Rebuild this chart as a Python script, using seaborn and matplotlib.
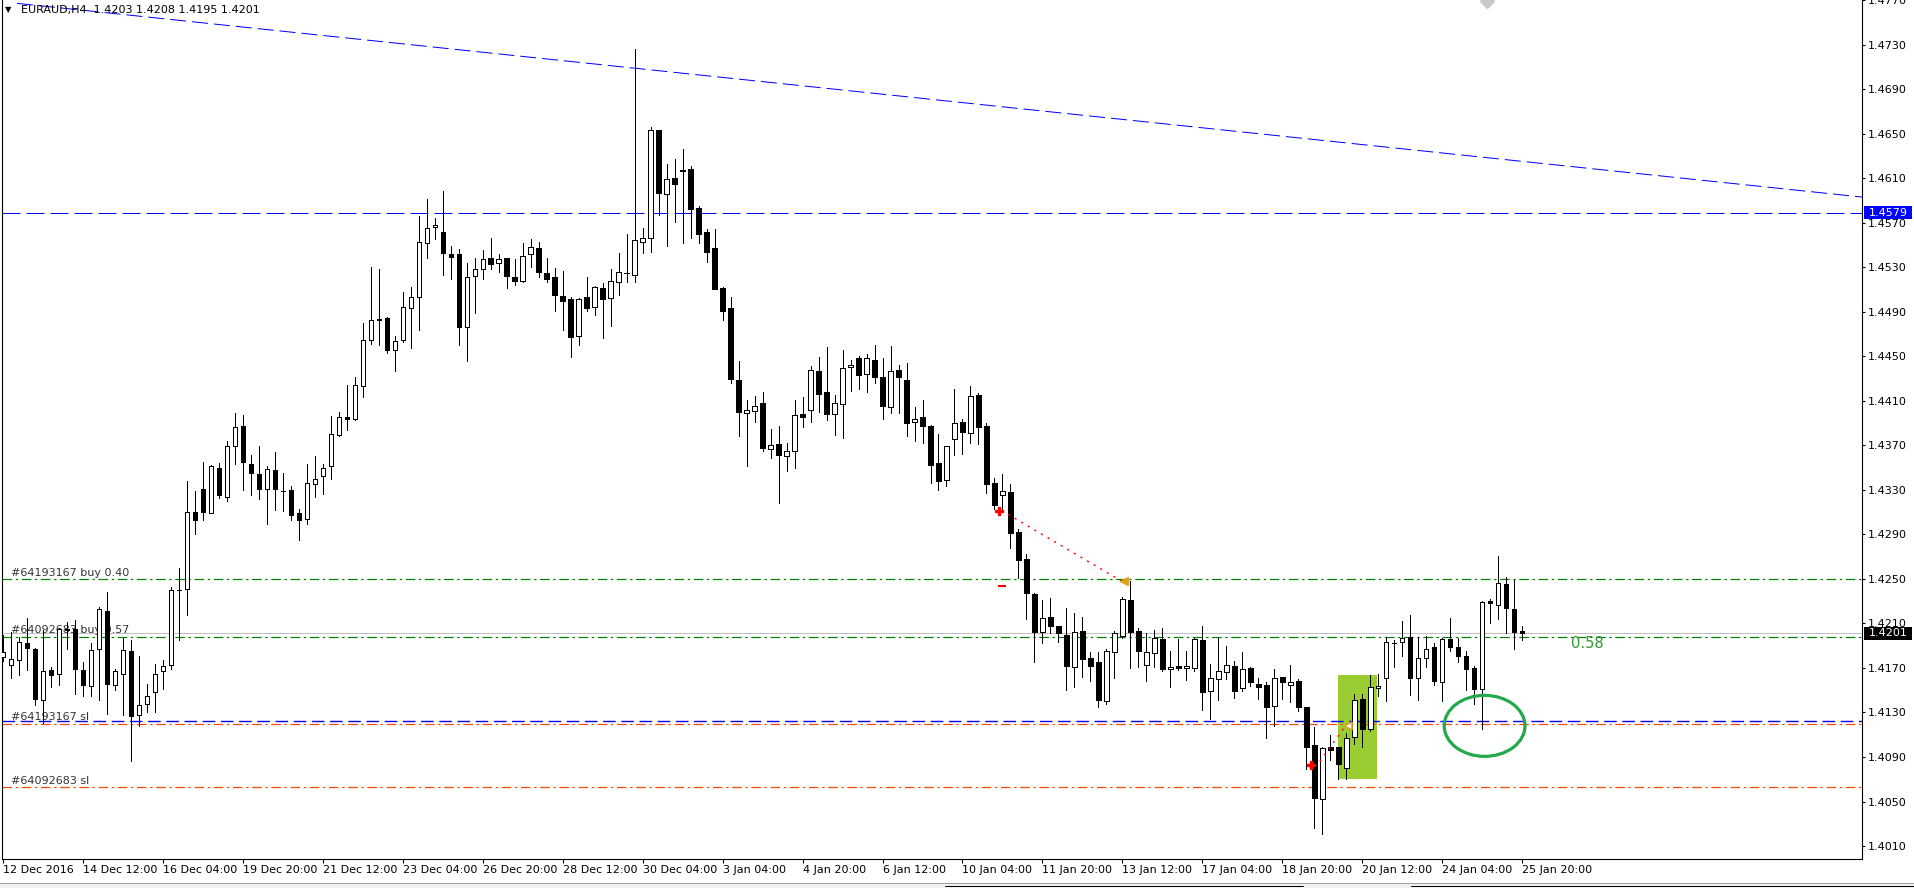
"""EURAUD H4 candlestick chart in MetaTrader style."""

import matplotlib

matplotlib.use("Agg")
import matplotlib.pyplot as plt  # noqa: E402
import matplotlib.transforms as mtransforms  # noqa: E402
import numpy as np  # noqa: E402
import seaborn as sns  # noqa: E402
from matplotlib.lines import Line2D  # noqa: E402
from matplotlib.patches import Ellipse, Rectangle  # noqa: E402

SYMBOL = "EURAUD,H4"

OPEN = [
    1.4180, 1.4173, 1.4177, 1.4192, 1.4187, 1.4141, 1.4168, 1.4165, 1.4205, 1.4205,
    1.4168, 1.4154, 1.4187, 1.4221, 1.4155, 1.4165, 1.4185, 1.4128, 1.4138, 1.4148,
    1.4167, 1.4173, 1.4240, 1.4241, 1.4310, 1.4331, 1.4309, 1.4350, 1.4324, 1.4369,
    1.4387, 1.4353, 1.4344, 1.4331, 1.4348, 1.4329, 1.4330, 1.4309, 1.4304, 1.4335,
    1.4342, 1.4351, 1.4379, 1.4395, 1.4394, 1.4423, 1.4465, 1.4483, 1.4484, 1.4456,
    1.4465, 1.4493, 1.4503, 1.4552, 1.4566, 1.4562, 1.4542, 1.4542, 1.4476, 1.4522,
    1.4528, 1.4538, 1.4534, 1.4538, 1.4521, 1.4518, 1.4542, 1.4547, 1.4525, 1.4521,
    1.4504, 1.4501, 1.4468, 1.4503, 1.4494, 1.4511, 1.4502, 1.4517, 1.4525, 1.4523,
    1.4553, 1.4556, 1.4653, 1.4596, 1.4610, 1.4617, 1.4618, 1.4583, 1.4562, 1.4547,
    1.4511, 1.4493, 1.4429, 1.4399, 1.4401, 1.4408, 1.4367, 1.4371, 1.4360, 1.4365,
    1.4398, 1.4402, 1.4437, 1.4418, 1.4398, 1.4407, 1.4440, 1.4448, 1.4434, 1.4447,
    1.4431, 1.4404, 1.4438, 1.4429, 1.4391, 1.4395, 1.4387, 1.4354, 1.4339, 1.4376,
    1.4391, 1.4381, 1.4415, 1.4387, 1.4336, 1.4325, 1.4328, 1.4292, 1.4268, 1.4236,
    1.4202, 1.4216, 1.4208, 1.4200, 1.4171, 1.4203, 1.4179, 1.4175, 1.4140, 1.4184,
    1.4199, 1.4231, 1.4203, 1.4173, 1.4183, 1.4196, 1.4169, 1.4172, 1.4170, 1.4170,
    1.4195, 1.4149, 1.4160, 1.4166, 1.4172, 1.4152, 1.4170, 1.4156, 1.4155, 1.4136,
    1.4162, 1.4155, 1.4158, 1.4135, 1.4101, 1.4052, 1.4099, 1.4099, 1.4080, 1.4108,
    1.4142, 1.4115, 1.4152, 1.4161, 1.4192, 1.4193, 1.4198, 1.4161, 1.4179, 1.4189,
    1.4157, 1.4196, 1.4189, 1.4181, 1.4170, 1.4151, 1.4230, 1.4227, 1.4245, 1.4223,
    1.4203,
]
HIGH = [
    1.4200, 1.4202, 1.4198, 1.4215, 1.4188, 1.4204, 1.4171, 1.4206, 1.4211, 1.4213,
    1.4175, 1.4192, 1.4225, 1.4238, 1.4169, 1.4197, 1.4195, 1.4181, 1.4156, 1.4174,
    1.4177, 1.4243, 1.4260, 1.4338, 1.4329, 1.4355, 1.4352, 1.4354, 1.4374, 1.4399,
    1.4397, 1.4361, 1.4369, 1.4351, 1.4364, 1.4345, 1.4333, 1.4313, 1.4353, 1.4360,
    1.4353, 1.4396, 1.4400, 1.4424, 1.4431, 1.4480, 1.4530, 1.4528, 1.4485, 1.4468,
    1.4508, 1.4512, 1.4576, 1.4591, 1.4574, 1.4598, 1.4549, 1.4546, 1.4534, 1.4538,
    1.4545, 1.4556, 1.4542, 1.4538, 1.4537, 1.4552, 1.4555, 1.4553, 1.4538, 1.4529,
    1.4527, 1.4503, 1.4502, 1.4521, 1.4513, 1.4516, 1.4528, 1.4543, 1.4560, 1.4726,
    1.4565, 1.4656, 1.4653, 1.4623, 1.4627, 1.4636, 1.4621, 1.4585, 1.4564, 1.4564,
    1.4512, 1.4503, 1.4446, 1.4411, 1.4414, 1.4418, 1.4385, 1.4387, 1.4372, 1.4411,
    1.4413, 1.4441, 1.4449, 1.4458, 1.4415, 1.4456, 1.4447, 1.4450, 1.4452, 1.4460,
    1.4448, 1.4459, 1.4442, 1.4444, 1.4404, 1.4411, 1.4388, 1.4380, 1.4369, 1.4421,
    1.4394, 1.4423, 1.4417, 1.4390, 1.4341, 1.4344, 1.4335, 1.4295, 1.4272, 1.4237,
    1.4231, 1.4233, 1.4208, 1.4224, 1.4219, 1.4216, 1.4184, 1.4184, 1.4187, 1.4203,
    1.4234, 1.4248, 1.4206, 1.4201, 1.4204, 1.4206, 1.4185, 1.4196, 1.4185, 1.4197,
    1.4208, 1.4174, 1.4197, 1.4190, 1.4176, 1.4184, 1.4171, 1.4161, 1.4157, 1.4169,
    1.4162, 1.4173, 1.4160, 1.4135, 1.4117, 1.4099, 1.4110, 1.4099, 1.4112, 1.4147,
    1.4147, 1.4164, 1.4165, 1.4198, 1.4195, 1.4212, 1.4218, 1.4198, 1.4199, 1.4192,
    1.4197, 1.4215, 1.4197, 1.4185, 1.4172, 1.4230, 1.4232, 1.4271, 1.4252, 1.4249,
    1.4208,
]
LOW = [
    1.4176, 1.4161, 1.4164, 1.4168, 1.4137, 1.4121, 1.4153, 1.4155, 1.4187, 1.4147,
    1.4145, 1.4145, 1.4141, 1.4129, 1.4150, 1.4128, 1.4086, 1.4118, 1.4130, 1.4130,
    1.4151, 1.4169, 1.4195, 1.4218, 1.4290, 1.4303, 1.4309, 1.4323, 1.4320, 1.4353,
    1.4330, 1.4325, 1.4322, 1.4299, 1.4312, 1.4311, 1.4303, 1.4285, 1.4299, 1.4324,
    1.4326, 1.4340, 1.4378, 1.4384, 1.4393, 1.4413, 1.4461, 1.4460, 1.4453, 1.4437,
    1.4463, 1.4457, 1.4474, 1.4538, 1.4555, 1.4523, 1.4519, 1.4460, 1.4446, 1.4489,
    1.4519, 1.4528, 1.4526, 1.4511, 1.4514, 1.4517, 1.4530, 1.4521, 1.4517, 1.4491,
    1.4474, 1.4449, 1.4460, 1.4491, 1.4487, 1.4466, 1.4477, 1.4505, 1.4517, 1.4517,
    1.4543, 1.4544, 1.4577, 1.4549, 1.4571, 1.4552, 1.4556, 1.4552, 1.4535, 1.4510,
    1.4483, 1.4426, 1.4378, 1.4351, 1.4391, 1.4365, 1.4359, 1.4318, 1.4347, 1.4350,
    1.4386, 1.4391, 1.4400, 1.4393, 1.4379, 1.4377, 1.4419, 1.4421, 1.4418, 1.4426,
    1.4394, 1.4399, 1.4399, 1.4378, 1.4374, 1.4372, 1.4336, 1.4330, 1.4333, 1.4361,
    1.4362, 1.4372, 1.4371, 1.4327, 1.4313, 1.4310, 1.4278, 1.4251, 1.4214, 1.4175,
    1.4192, 1.4201, 1.4193, 1.4150, 1.4153, 1.4162, 1.4158, 1.4135, 1.4138, 1.4161,
    1.4197, 1.4170, 1.4171, 1.4158, 1.4171, 1.4167, 1.4153, 1.4168, 1.4159, 1.4167,
    1.4132, 1.4124, 1.4141, 1.4160, 1.4143, 1.4149, 1.4154, 1.4142, 1.4107, 1.4118,
    1.4142, 1.4139, 1.4131, 1.4079, 1.4026, 1.4021, 1.4087, 1.4070, 1.4070, 1.4102,
    1.4099, 1.4113, 1.4145, 1.4140, 1.4171, 1.4181, 1.4146, 1.4141, 1.4171, 1.4155,
    1.4140, 1.4185, 1.4175, 1.4150, 1.4138, 1.4115, 1.4210, 1.4214, 1.4201, 1.4187,
    1.4195,
]
CLOSE = [
    1.4184, 1.4178, 1.4193, 1.4188, 1.4142, 1.4167, 1.4164, 1.4205, 1.4204, 1.4169,
    1.4155, 1.4186, 1.4223, 1.4156, 1.4167, 1.4186, 1.4127, 1.4137, 1.4145, 1.4165,
    1.4172, 1.4240, 1.4240, 1.4310, 1.4303, 1.4310, 1.4351, 1.4325, 1.4369, 1.4386,
    1.4355, 1.4345, 1.4331, 1.4349, 1.4331, 1.4329, 1.4307, 1.4303, 1.4336, 1.4340,
    1.4350, 1.4380, 1.4395, 1.4394, 1.4424, 1.4465, 1.4483, 1.4483, 1.4456, 1.4464,
    1.4494, 1.4503, 1.4553, 1.4565, 1.4568, 1.4543, 1.4539, 1.4476, 1.4521, 1.4528,
    1.4537, 1.4533, 1.4537, 1.4522, 1.4518, 1.4540, 1.4548, 1.4526, 1.4519, 1.4505,
    1.4500, 1.4467, 1.4501, 1.4493, 1.4512, 1.4501, 1.4518, 1.4526, 1.4525, 1.4554,
    1.4556, 1.4653, 1.4597, 1.4609, 1.4605, 1.4616, 1.4582, 1.4560, 1.4544, 1.4510,
    1.4491, 1.4430, 1.4400, 1.4402, 1.4405, 1.4368, 1.4370, 1.4361, 1.4365, 1.4397,
    1.4395, 1.4438, 1.4416, 1.4398, 1.4408, 1.4439, 1.4442, 1.4433, 1.4448, 1.4431,
    1.4405, 1.4437, 1.4431, 1.4390, 1.4394, 1.4387, 1.4352, 1.4338, 1.4369, 1.4390,
    1.4382, 1.4414, 1.4386, 1.4335, 1.4316, 1.4329, 1.4291, 1.4267, 1.4237, 1.4202,
    1.4215, 1.4208, 1.4201, 1.4172, 1.4202, 1.4178, 1.4172, 1.4141, 1.4185, 1.4201,
    1.4232, 1.4202, 1.4185, 1.4184, 1.4197, 1.4169, 1.4171, 1.4170, 1.4172, 1.4196,
    1.4148, 1.4161, 1.4167, 1.4173, 1.4149, 1.4169, 1.4157, 1.4153, 1.4135, 1.4161,
    1.4157, 1.4157, 1.4135, 1.4099, 1.4053, 1.4098, 1.4096, 1.4084, 1.4107, 1.4141,
    1.4115, 1.4153, 1.4154, 1.4193, 1.4192, 1.4197, 1.4161, 1.4179, 1.4187, 1.4158,
    1.4196, 1.4189, 1.4181, 1.4169, 1.4151, 1.4229, 1.4228, 1.4246, 1.4224, 1.4202,
    1.4201,
]

TIME_LABELS = [
    "12 Dec 2016", "14 Dec 12:00", "16 Dec 04:00", "19 Dec 20:00", "21 Dec 12:00",
    "23 Dec 04:00", "26 Dec 20:00", "28 Dec 12:00", "30 Dec 04:00", "3 Jan 04:00",
    "4 Jan 20:00", "6 Jan 12:00", "10 Jan 04:00", "11 Jan 20:00", "13 Jan 12:00",
    "17 Jan 04:00", "18 Jan 20:00", "20 Jan 12:00", "24 Jan 04:00", "25 Jan 20:00",
]
PRICE_TICKS = [
    1.4010, 1.4050, 1.4090, 1.4130, 1.4170, 1.4210, 1.4250, 1.4290, 1.4330, 1.4370,
    1.4410, 1.4450, 1.4490, 1.4530, 1.4570, 1.4610, 1.4650, 1.4690, 1.4730, 1.4770,
]

# horizontal levels
RESIST_LEVEL = 1.4579
BLUE_SL_LEVEL = 1.4122
BID = 1.4201
ORDER_LEVELS = [1.4250, 1.4198, 1.4120, 1.4063]
ORDER_TEXTS = ["#64193167 buy 0.40", "#64092683 buy 0.57", "#64193167 sl", "#64092683 sl"]
ORDER_KINDS = ["buy", "buy", "sl", "sl"]

# trend line anchors (bar index, price)
TREND_BARS = [1.75, 232.5]
TREND_PRICES = [1.4767, 1.4593]

# trade arrows: (bar, price) of entry cross and of the closing triangle
ARROW_START_BARS = [124.6, 163.6]
ARROW_START_PRICES = [1.4311, 1.4083]
ARROW_END_BARS = [140.2, 168.2]
ARROW_END_PRICES = [1.4248, 1.4118]

# highlighted zone and circle
ZONE_BARS = [167.0, 171.85]
ZONE_PRICES = [1.40705, 1.41635]
CIRCLE_BAR, CIRCLE_PRICE = 185.3, 1.4118
CIRCLE_W, CIRCLE_H = 10.1, 0.00548

PROFIT_TEXT = "0.58"
PROFIT_BAR, PROFIT_PRICE = 198.1, 1.4192

W, H = 1914, 888
PX = 0.72  # one pixel in points at dpi 100


def main() -> None:
    sns.set_theme(style="white")
    plt.rcParams["font.family"] = ["DejaVu Sans"]
    plt.rcParams["axes.edgecolor"] = "black"

    o = np.array(OPEN)
    h = np.array(HIGH)
    lo = np.array(LOW)
    c = np.array(CLOSE)
    x = np.arange(len(o))

    fig = plt.figure(figsize=(W / 100, H / 100), dpi=100, facecolor="white")
    ax = fig.add_axes([2 / W, 29 / H, 1860 / W, 859 / H])
    ax.set_facecolor("white")
    ymin, ymax = 1.39984, 1.47695
    ax.set_xlim(-0.125, 232.5)
    ax.set_ylim(ymin, ymax)
    px_per_price = 859 / (ymax - ymin)

    # zone behind candles
    ax.add_patch(Rectangle((ZONE_BARS[0], ZONE_PRICES[0]), ZONE_BARS[1] - ZONE_BARS[0],
                           ZONE_PRICES[1] - ZONE_PRICES[0], facecolor="#9acd32",
                           edgecolor="none", zorder=0.5))

    # levels
    ax.axhline(RESIST_LEVEL, color="#0000ff", lw=PX, linestyle=(0, (18, 6)), zorder=1)
    ax.axhline(BID, color="#c0c0c0", lw=PX, zorder=1)
    ax.axhline(BLUE_SL_LEVEL, color="#0000ff", lw=PX * 1.4, linestyle=(0, (9, 4)), zorder=1.2)
    blend = mtransforms.blended_transform_factory(ax.transAxes, ax.transData)
    for level, text, kind in zip(ORDER_LEVELS, ORDER_TEXTS, ORDER_KINDS):
        col = "#008000" if kind == "buy" else "#ff4500"
        ax.axhline(level, color=col, lw=PX * 1.2, linestyle=(0, (8, 3, 2, 3)), zorder=1.1)
        ax.annotate(text, xy=(0, level), xycoords=blend, xytext=(6.5, 1.0),
                    textcoords="offset points", ha="left", va="bottom",
                    fontsize=8, color="#333333", zorder=1.5)
    ax.plot(TREND_BARS, TREND_PRICES, color="#0000ff", lw=PX,
            linestyle=(0, (16, 6)), zorder=1)

    # candles
    bull = c >= o
    ax.vlines(x, lo, h, color="black", lw=PX, zorder=3, antialiased=False)
    body_h = np.maximum(np.abs(c - o), 1e-6)
    ax.bar(x, body_h, bottom=np.minimum(o, c), width=0.56,
           color=np.where(bull, "white", "black"), edgecolor="black",
           linewidth=PX, zorder=4, antialiased=False)

    # trade arrows
    for i in range(len(ARROW_START_BARS)):
        ax.plot([ARROW_START_BARS[i] + 1.1, ARROW_END_BARS[i] - 0.3],
                [ARROW_START_PRICES[i] - 0.0005 * (1 - 2 * i) * 0.6, ARROW_END_PRICES[i]],
                color="#ff0000", lw=1.0, linestyle=(0, (1.5, 4)), zorder=5)
        ax.plot(ARROW_START_BARS[i], ARROW_START_PRICES[i], marker="P", ms=5.5,
                color="#ff0000", mec="#ff0000", zorder=6)
    ax.plot(ARROW_END_BARS[0], ARROW_END_PRICES[0], marker="<", ms=5.5,
            color="#daa520", mec="#daa520", zorder=6)
    ax.plot(ARROW_END_BARS[1], ARROW_END_PRICES[1], marker="<", ms=6,
            mfc="white", mec="#daa520", mew=1.2, zorder=6)
    ax.plot(125.0, 1.4244, marker="_", ms=6, mew=1.5, color="#ff0000", zorder=6)

    # circle
    ax.add_patch(Ellipse((CIRCLE_BAR, CIRCLE_PRICE), CIRCLE_W, CIRCLE_H, fill=False,
                         edgecolor="#23a84a", lw=2.3, zorder=7))

    # gray object at the top
    ax.plot(185.6, ymax, marker="D", ms=7.6, color="#c8c8c8", zorder=2, clip_on=True)

    ax.text(PROFIT_BAR, PROFIT_PRICE, PROFIT_TEXT, fontsize=10.5, color="#2e9a2e",
            ha="center", va="center", zorder=2)

    # axes styling
    for side in ("left", "right", "bottom"):
        ax.spines[side].set_color("black")
        ax.spines[side].set_linewidth(0.8)
    ax.spines["top"].set_visible(False)
    ax.yaxis.tick_right()
    ax.set_yticks(PRICE_TICKS)
    ax.set_yticklabels([f"{v:.4f}" for v in PRICE_TICKS])
    ax.set_xticks(np.arange(0, len(TIME_LABELS) * 10, 10))
    ax.set_xticklabels(TIME_LABELS, ha="left")
    ax.tick_params(axis="y", direction="out", length=2.2, width=0.8, pad=2.2,
                   labelsize=8, colors="black", right=True, left=False)
    ax.tick_params(axis="x", direction="out", length=2.6, width=0.8, pad=1.5,
                   labelsize=8, colors="black", bottom=True)
    ax.grid(False)

    # price boxes on the right scale
    box_h = 13 / px_per_price
    for value, fc in ((RESIST_LEVEL, "#0000ff"), (BID, "black")):
        ax.add_patch(Rectangle((1 + 2 / 1860, value - box_h / 2), 48 / 1860, box_h,
                               transform=blend, facecolor=fc, edgecolor="none",
                               clip_on=False, zorder=10))
        ax.text(1 + 6.5 / 1860, value, f"{value:.4f}", transform=blend, color="white",
                fontsize=8, ha="left", va="center", clip_on=False, zorder=11)

    # header
    fig.text(5 / W, 1 - 10 / H, "\u25bc", fontsize=6, ha="left", va="center", color="black")
    header = f"{SYMBOL}  {o[-1]:.4f} {h[-1]:.4f} {lo[-1]:.4f} {c[-1]:.4f}"
    fig.text(21 / W, 1 - 9.5 / H, header, fontsize=8, ha="left", va="center", color="black")

    # window bottom
    fig.add_artist(Rectangle((0, 0), 1, 5 / H, transform=fig.transFigure,
                             facecolor="#f0f0f0", edgecolor="none"))
    fig.add_artist(Line2D([0, 1], [5.5 / H] * 2, transform=fig.transFigure,
                          color="#a0a0a0", lw=PX))
    for x0, x1 in ((945, 1303), (1411, 1914)):
        fig.add_artist(Line2D([x0 / W, x1 / W], [2.5 / H] * 2, transform=fig.transFigure,
                              color="black", lw=PX))

    fig.savefig("out.png", dpi=100)
    plt.close(fig)


if __name__ == "__main__":
    main()
